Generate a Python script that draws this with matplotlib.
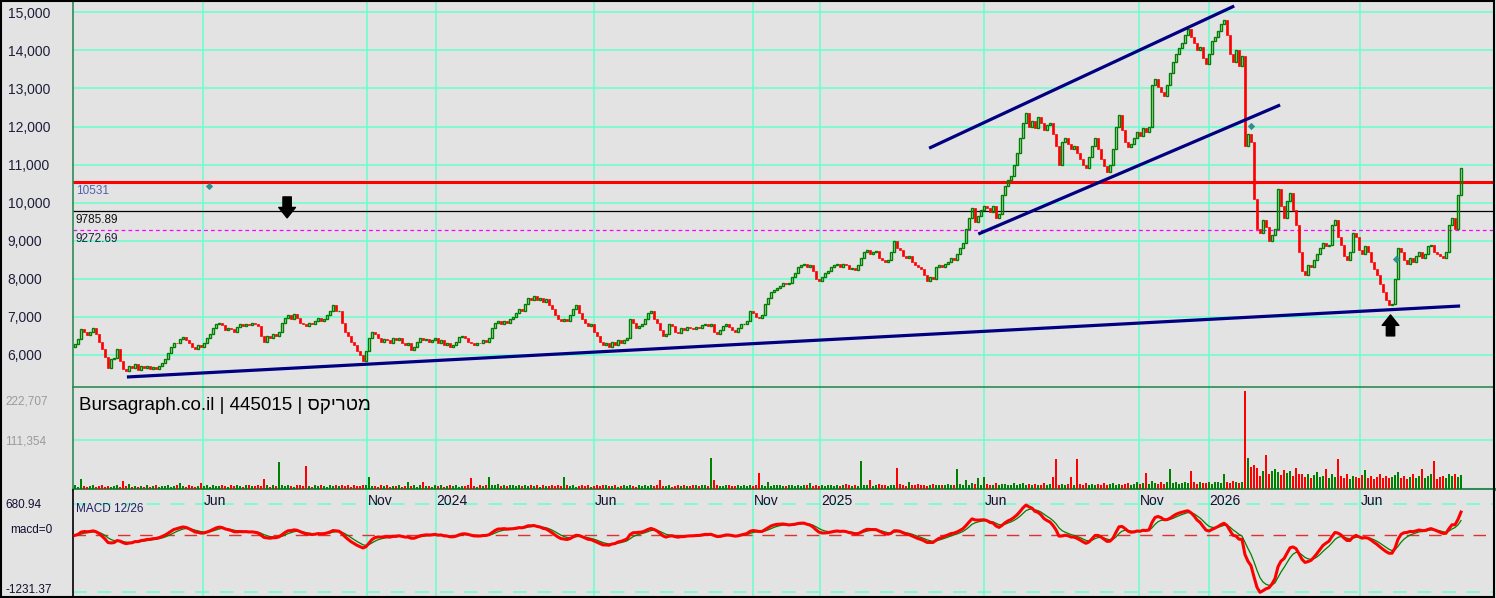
"""
Bursagraph style candlestick chart: price / volume / MACD panels.
Values are read off the reference picture (one candle ~ every 2 trading days).
"""
import matplotlib
matplotlib.use("Agg")
import matplotlib.pyplot as plt
import matplotlib.transforms as mtransforms
from matplotlib.patches import Rectangle
import numpy as np
import pandas as pd

plt.rcParams["font.family"] = ["Liberation Sans", "DejaVu Sans"]

# ---------------- data ----------------
first_open = 6200
closes = [
    6280, 6420, 6680, 6590, 6520, 6600, 6700, 6540, 6350, 6150,
    5950, 5650, 5880, 5920, 6150, 5850, 5620, 5580, 5700, 5650,
    5750, 5600, 5720, 5650, 5700, 5620, 5680, 5640, 5720, 5800,
    5900, 6050, 6200, 6320, 6300, 6420, 6480, 6400, 6300, 6200,
    6150, 6250, 6200, 6300, 6450, 6550, 6700, 6820, 6850, 6780,
    6650, 6700, 6680, 6600, 6720, 6800, 6760, 6820, 6780, 6850,
    6800, 6750, 6500, 6350, 6500, 6450, 6550, 6500, 6600, 6850,
    6980, 7050, 6950, 7080, 6980, 6850, 6800, 6750, 6850, 6820,
    6900, 6980, 6900, 6950, 7050, 7150, 7300, 7150, 7150, 6850,
    6600, 6500, 6350, 6250, 6100, 6000, 5850, 6100, 6450, 6600,
    6550, 6450, 6350, 6420, 6380, 6300, 6450, 6380, 6450, 6300,
    6250, 6300, 6120, 6200, 6350, 6450, 6380, 6420, 6350, 6400,
    6450, 6300, 6400, 6250, 6300, 6200, 6250, 6350, 6480, 6500,
    6450, 6350, 6300, 6250, 6320, 6300, 6380, 6350, 6450, 6700,
    6850, 6900, 6820, 6900, 6850, 6950, 7000, 7100, 7200, 7150,
    7350, 7500, 7450, 7550, 7450, 7500, 7400, 7480, 7300, 7200,
    7050, 6950, 6900, 6950, 6900, 7050, 7200, 7300, 7100, 6950,
    6850, 6750, 6800, 6600, 6500, 6350, 6250, 6300, 6200, 6350,
    6250, 6400, 6300, 6380, 6450, 6950, 6850, 6700, 6750, 6800,
    6950, 7100, 7150, 6950, 6850, 6650, 6500, 6550, 6800, 6750,
    6600, 6580, 6700, 6650, 6720, 6700, 6680, 6720, 6700, 6780,
    6800, 6750, 6800, 6600, 6550, 6650, 6750, 6800, 6720, 6650,
    6600, 6700, 6800, 6820, 6900, 7150, 7100, 7000, 6980, 7050,
    7350, 7500, 7650, 7700, 7750, 7800, 7880, 7850, 7900, 8050,
    8150, 8300, 8350, 8400, 8300, 8350, 8200, 8000, 7950, 8050,
    8150, 8200, 8300, 8350, 8380, 8300, 8400, 8350, 8250, 8280,
    8220, 8350, 8550, 8700, 8750, 8650, 8700, 8720, 8550, 8500,
    8450, 8500, 8700, 9000, 8800, 8750, 8600, 8550, 8600, 8450,
    8350, 8300, 8250, 8100, 7950, 8050, 8000, 8300, 8350, 8300,
    8400, 8450, 8550, 8500, 8650, 8800, 8950, 9300, 9600, 9850,
    9500, 9650, 9800, 9900, 9850, 9750, 9900, 9600, 9700, 10200,
    10450, 10600, 10700, 11000, 11300, 11700, 12100, 12350, 12000, 12150,
    11950, 12250, 12100, 11900, 12050, 12100, 11800, 11500, 11000, 11600,
    11700, 11550, 11400, 11500, 11300, 11150, 11000, 10900, 11200, 11500,
    11700, 11400, 11150, 10950, 10800, 11000, 11400, 12000, 12300, 11900,
    11600, 11450, 11550, 11700, 11850, 11750, 11950, 11850, 12000, 13100,
    13250, 13050, 12900, 12800, 13100, 13400, 13700, 13900, 14050, 14200,
    14400, 14550, 14350, 14200, 14000, 14100, 13800, 13650, 13900, 14250,
    14350, 14500, 14700, 14800, 14400, 13900, 13700, 14000, 13600, 13850,
    11500, 11800, 11600, 10100, 9300, 9200, 9550, 9350, 9000, 9150,
    9300, 10350, 9900, 9600, 10050, 10250, 9800, 9400, 8700, 8200,
    8100, 8350, 8300, 8500, 8650, 8800, 8950, 8850, 8900, 9400,
    9550, 9100, 8900, 8600, 8500, 8700, 9200, 9100, 8750, 8650,
    8850, 8700, 8450, 8250, 8100, 7850, 7650, 7450, 7300, 7350,
    8000, 8800, 8700, 8500, 8400, 8550, 8450, 8600, 8700, 8550,
    8650, 8850, 8900, 8700, 8650, 8600, 8550, 8700, 9400, 9600,
    9300, 10200, 10900,
]

# volume, thousands of units
volume_k = [
    8, 5, 22, 6, 4, 7, 9, 5, 6, 8,
    5, 7, 4, 6, 9, 5, 18, 6, 12, 5,
    6, 4, 7, 5, 8, 4, 6, 9, 5, 7,
    6, 8, 5, 7, 9, 14, 6, 5, 8, 6,
    5, 7, 14, 6, 8, 5, 9, 7, 6, 10,
    7, 5, 8, 6, 9, 7, 5, 8, 10, 6,
    7, 9, 6, 22, 8, 5, 10, 7, 61, 8,
    6, 9, 7, 5, 8, 10, 6, 52, 7, 5,
    8, 6, 9, 7, 5, 8, 6, 10, 7, 9,
    6, 8, 5, 9, 7, 6, 10, 8, 27, 6,
    7, 5, 8, 6, 9, 5, 7, 6, 8, 5,
    7, 17, 6, 8, 5, 9, 17, 6, 7, 5,
    8, 6, 9, 5, 7, 8, 6, 10, 5, 7,
    6, 8, 25, 7, 5, 9, 6, 8, 27, 10,
    8, 12, 6, 9, 7, 8, 10, 6, 9, 7,
    8, 6, 10, 7, 9, 5, 8, 6, 7, 9,
    6, 8, 7, 27, 9, 6, 8, 5, 7, 9,
    6, 8, 5, 7, 9, 6, 8, 10, 7, 6,
    8, 5, 7, 9, 6, 8, 7, 5, 9, 6,
    8, 7, 9, 6, 8, 20, 7, 6, 9, 5,
    7, 8, 6, 9, 7, 6, 8, 10, 7, 9,
    8, 6, 70, 20, 9, 7, 6, 8, 10, 7,
    6, 9, 7, 8, 6, 10, 7, 9, 36, 8,
    7, 17, 6, 9, 8, 10, 7, 6, 9, 8,
    7, 9, 6, 8, 10, 14, 7, 9, 6, 8,
    7, 9, 10, 6, 8, 7, 9, 11, 8, 6,
    9, 7, 63, 10, 8, 20, 7, 9, 12, 8,
    10, 7, 9, 8, 48, 11, 9, 7, 17, 8,
    9, 12, 8, 10, 7, 9, 11, 8, 10, 9,
    8, 11, 9, 10, 45, 12, 9, 20, 10, 14,
    11, 25, 9, 27, 12, 10, 8, 13, 9, 11,
    12, 10, 9, 13, 8, 11, 14, 10, 12, 9,
    11, 8, 10, 13, 9, 12, 28, 68, 10, 12,
    9, 11, 27, 10, 68, 12, 9, 13, 10, 11,
    8, 12, 10, 14, 9, 11, 13, 10, 12, 9,
    11, 13, 10, 12, 15, 11, 14, 36, 12, 18,
    14, 12, 16, 11, 15, 45, 13, 17, 12, 14,
    16, 13, 40, 15, 12, 17, 14, 13, 16, 12,
    15, 17, 14, 33, 16, 13, 18, 15, 14, 17,
    222.7, 70, 50, 55, 48, 30, 42, 77, 35, 40,
    45, 38, 32, 44, 36, 40, 30, 48, 35, 33,
    28, 35, 25, 32, 38, 27, 30, 45, 26, 33,
    28, 68, 30, 25, 35, 22, 30, 27, 24, 32,
    43, 26, 30, 22, 28, 35, 24, 30, 26, 28,
    32, 38, 25, 30, 22, 28, 33, 24, 30, 45,
    26, 30, 35, 63, 22, 28, 30, 25, 33, 30,
    35, 28, 32,
]

# month separators: label, candle index
month_labels = ["Jun", "Nov", "2024", "Jun", "Nov", "2025", "Jun", "Nov", "2026", "Jun"]
month_pos = [42.6, 97.4, 120.2, 173.1, 226.1, 248.4, 303.1, 354.5, 377.9, 428.4]

# horizontal reference levels
level_vals = [10531, 9785.89, 9272.69]
level_text = ["10531", "9785.89", "9272.69"]

# trend lines drawn on the chart: (i0, p0, i1, p1)
trend_lines = [
    (17.3, 5420, 461.7, 7285),
    (284.7, 11430, 386.4, 15165),
    (301.1, 9175, 401.7, 12565),
]

# block arrows: candle index, tip price, tail price
arrows = [(70.7, 9600, 10150), (438.5, 7050, 6500)]

# small markers seen on the chart
diamond_i = [44.7, 392.0, 440.3]
diamond_p = [10437, 12011, 8509]

vol_max_text = "222,707"
vol_mid_text = "111,354"
vol_mid = 111354
macd_hi_text, macd_lo_text = "680.94", "-1231.37"
macd_hi, macd_lo = 680.94, -1231.37
title_text = "Bursagraph.co.il | 445015 | " + "מטריקס"[::-1]  # Hebrew shown right-to-left

# ---------------- derived ----------------
close = np.array(closes, dtype=float)
openp = np.r_[first_open, close[:-1]]
idx = np.arange(len(close))
up = close >= openp
vol = np.array(volume_k) * 1000

# MACD 12/26/9 on daily bars ~ 6/13/5 on these 2-day candles
s = pd.Series(close)
macd = (s.ewm(span=6, adjust=False).mean() - s.ewm(span=13, adjust=False).mean()).values
signal = pd.Series(macd).ewm(span=5, adjust=False).mean().values

# ---------------- style ----------------
W, H = 1496, 598
L, R = 73, 1494
BG = "#e3e3e3"
GRID = "#66ffcc"
GREEN = "#008000"
RED = "#ff0000"
NAVY = "#000080"
SPINE = "#2e8b57"
XLIM = (-0.67, 473)

fig = plt.figure(figsize=(W / 100, H / 100), dpi=100, facecolor=BG)


def panel(top, bottom):
    a = fig.add_axes([L / W, 1 - bottom / H, (R - L) / W, (bottom - top) / H])
    a.set_facecolor(BG)
    a.set_xlim(*XLIM)
    a.set_xticks([])
    for sp in a.spines.values():
        sp.set_visible(False)
    for p in month_pos:
        a.axvline(p, color=GRID, lw=1.1, zorder=0)
    return a


ax = panel(0, 387)
axv = panel(387, 489)
axm = panel(490, 597)

# ---- price panel ----
ax.set_ylim(5157, 15323)
for v in range(6000, 15001, 1000):
    ax.axhline(v, color=GRID, lw=1.1, zorder=0)
ax.set_yticks(range(6000, 15001, 1000))
ax.set_yticklabels([f"{v:,}" for v in range(6000, 15001, 1000)], fontsize=10, color="#1e1e3c")
ax.tick_params(axis="y", length=0, pad=47)
for t in ax.get_yticklabels():
    t.set_horizontalalignment("left")
ax.spines["left"].set_visible(True)
ax.spines["left"].set_color(SPINE)
ax.spines["left"].set_linewidth(1.2)

ax.axhline(level_vals[0], color=RED, lw=2.2, zorder=2)
ax.axhline(level_vals[1], color="black", lw=0.9, zorder=2)
ax.axhline(level_vals[2], color="#ff00ff", lw=0.9, ls=(0, (3, 2.5)), zorder=2)
lvl_colors = ["#5060b0", "#101010", "#202040"]
for v, txt, c in zip(level_vals, level_text, lvl_colors):
    ax.annotate(txt, xy=(0, v), xycoords=("axes fraction", "data"), xytext=(2, -2),
                textcoords="offset points", ha="left", va="top", fontsize=8.5, color=c)

dn = ~up
ax.bar(idx[dn], (openp - close)[dn], bottom=close[dn], width=0.9,
       color=RED, edgecolor=RED, linewidth=0.5, zorder=4)
ax.bar(idx[up], (close - openp)[up], bottom=openp[up], width=0.85,
       facecolor="none", edgecolor=GREEN, linewidth=1.0, zorder=4)

for i0, p0, i1, p1 in trend_lines:
    ax.plot([i0, i1], [p0, p1], color=NAVY, lw=2.3, solid_capstyle="butt", zorder=5)

for ai, tip, tail in arrows:
    ax.annotate("", xy=(ai, tip), xytext=(ai, tail),
                arrowprops=dict(arrowstyle="simple,head_width=12,head_length=7.5,tail_width=6",
                                mutation_scale=1, color="black", shrinkA=0, shrinkB=0), zorder=6)

ax.scatter(diamond_i, diamond_p, marker="D", s=14, color="#2f8f8f", zorder=6, linewidths=0)

# ---- volume panel ----
axv.set_ylim(0, 231800)
axv.axhline(vol_mid, color=GRID, lw=1.1, zorder=0)
axv.bar(idx, vol, width=0.45, color=np.where(up, GREEN, RED), linewidth=0, zorder=3)
axv.set_yticks([])
for k in ("left", "top"):
    axv.spines[k].set_visible(True)
    axv.spines[k].set_color(SPINE)
    axv.spines[k].set_linewidth(1.2)
axv.spines["bottom"].set_visible(True)
axv.spines["bottom"].set_color(SPINE)
axv.spines["bottom"].set_linewidth(2.2)
axv.text(0.004, 0.82, title_text, transform=axv.transAxes, fontsize=13.5,
         ha="left", va="center", color="black")
fig.text(5 / W, 1 - 402 / H, vol_max_text, fontsize=8.5, color="#9a9a9a", va="center")
fig.text(5 / W, 1 - 441 / H, vol_mid_text, fontsize=8.5, color="#9a9a9a", va="center")

# ---- MACD panel ----
span = macd_hi - macd_lo
axm.set_ylim(macd_lo - span * 5 / 88, macd_hi + span * 14 / 88)
axm.axhline(macd_hi, color=GRID, lw=1.1, ls=(0, (9, 7)), zorder=0)
axm.axhline(macd_lo, color=GRID, lw=1.1, ls=(0, (9, 7)), zorder=0)
axm.axhline(0, color="#e03030", lw=1.0, ls=(0, (9, 7)), zorder=1)
axm.plot(idx, signal, color=GREEN, lw=0.9, zorder=3)
axm.plot(idx, macd, color=RED, lw=2.2, zorder=4)
axm.set_yticks([])
axm.spines["left"].set_visible(True)
axm.spines["left"].set_color("black")
axm.spines["left"].set_linewidth(1.2)
axm.text(0.002, 0.82, "MACD 12/26", transform=axm.transAxes, fontsize=8.5,
         color="#202060", ha="left", va="center")
blend = mtransforms.blended_transform_factory(axm.transData, axm.transAxes)
for lab, p in zip(month_labels, month_pos):
    axm.text(p + 0.3, 0.9, lab, transform=blend, fontsize=10, ha="left", va="center",
             color="#101030")
fig.text(5 / W, 1 - 505 / H, macd_hi_text, fontsize=8.5, color="#101030", va="center")
fig.text(10 / W, 1 - 530 / H, "macd=0", fontsize=8.5, color="#101030", va="center")
fig.text(5 / W, 1 - 590 / H, macd_lo_text, fontsize=8.5, color="#101030", va="center")

fig.patches.append(Rectangle((0.0005, 0.001), 0.998, 0.998, transform=fig.transFigure,
                             fill=False, edgecolor="black", lw=1.5))

fig.savefig("out.png", dpi=100, facecolor=BG)
